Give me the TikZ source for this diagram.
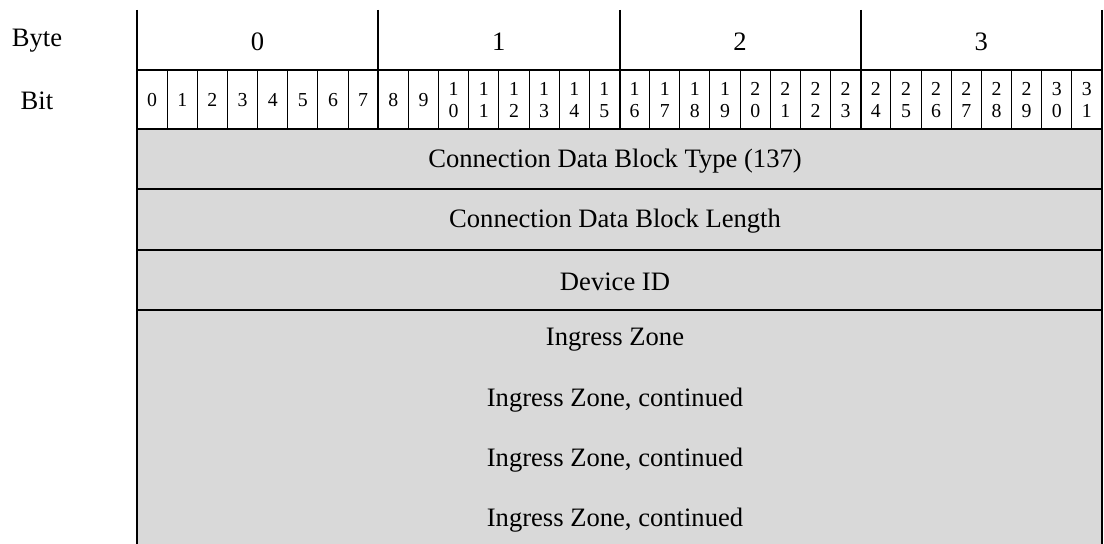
\documentclass[tikz,border=0pt]{standalone}
\usepackage{fontspec}
\setmainfont{Liberation Serif}
\definecolor{fieldgrey}{HTML}{D9D9D9}

\begin{document}
\begin{tikzpicture}[x=0.5pt,y=-0.5pt,
	rule/.style={line width=1pt},
	bitrule/.style={line width=0.5pt},
	lbl/.style={inner sep=0pt,yshift=-1pt,font=\fontsize{13.3}{16}\selectfont},
	bitnum/.style={inner sep=0pt,align=center,font=\fontsize{9.9}{10.9}\selectfont}]
	\useasboundingbox (0,0) rectangle (1104,544);
	\fill[fieldgrey] (137,129) rectangle (1102,544);
	% header labels
	\node[lbl] (byte) at (37,39) {Byte};
	\node[lbl] (bit) at (37,99) {Bit};
	\foreach \b in {0,...,3}
		\node[lbl] (byte\b) at ({137+(\b+0.5)*241.25},40) {\b};
	\foreach \i in {0,...,31}{
		\pgfmathtruncatemacro\hi{\i/10}
		\pgfmathtruncatemacro\lo{mod(\i,10)}
		\ifnum\i<10
			\node[bitnum] (bit\i) at ({137+(\i+0.5)*30.156},100) {\i};
		\else
			\node[bitnum] (bit\i) at ({137+(\i+0.5)*30.156},100) {\hi\\\lo};
		\fi
	}
	% fields
	\node[lbl] (cdbtype) at (615,159) {Connection Data Block Type (137)};
	\node[lbl] (cdblength) at (615,219.5) {Connection Data Block Length};
	\node[lbl] (deviceid) at (615,280) {Device ID};
	\node[lbl] (zone0) at (615,338) {Ingress Zone};
	\foreach \k in {1,2,3}
		\node[lbl] (zone\k) at (615,{338+60*\k}) {Ingress Zone, continued};
	% grid
	\foreach \i in {1,...,31}{
		\pgfmathtruncatemacro\r{mod(\i,8)}
		\ifnum\r>0
			\draw[bitrule] ({137+\i*30.156},70) -- ({137+\i*30.156},129);
		\fi
	}
	\foreach \k in {1,2,3}
		\draw[rule] ({137+\k*241.25},10) -- ({137+\k*241.25},129);
	\foreach \y in {70,129,189,250,310}
		\draw[rule] (137,\y) -- (1102,\y);
	\foreach \x in {137,1102}
		\draw[rule] (\x,10) -- (\x,544);
\end{tikzpicture}
\end{document}
